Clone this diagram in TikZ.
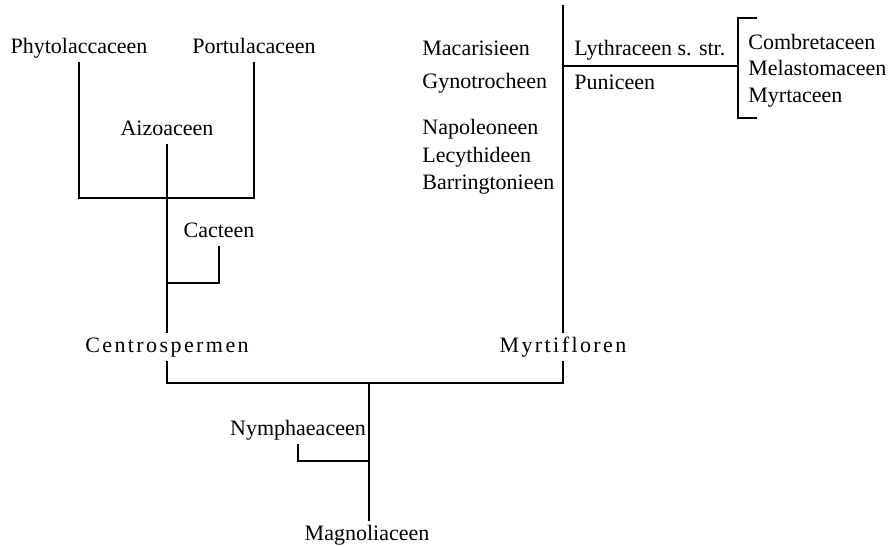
\documentclass[tikz,border=0pt]{standalone}
\usepackage{fontspec}
\setmainfont{Liberation Serif}
\newfontfamily\spacedfont[LetterSpace=11]{Liberation Serif}
\usepackage{tikz}

\begin{document}
\begin{tikzpicture}[x=0.5pt,y=-0.5pt,
  taxon/.style={inner sep=2pt,text height=7.5pt,text depth=2.2pt,font=\fontsize{11}{13}\selectfont},
  group/.style={taxon,font=\spacedfont\fontsize{11}{13}\selectfont},
  stem/.style={line width=1pt},
  brack/.style={line width=1.3pt}]
  \useasboundingbox (0,0) rectangle (893,546);
  % Centrospermen
  \node[taxon] (phyto) at (79,48) {Phytolaccaceen};
  \node[taxon] (portu) at (254,48) {Portulacaceen};
  \node[taxon] (aizo) at (167,130) {Aizoaceen};
  \node[taxon] (cact) at (219,232) {Cacteen};
  \node[group] (centro) at (167,347) {Centrospermen};
  \coordinate (j1) at (167,198); \coordinate (j2) at (167,283);
  \draw[stem] (phyto.south) |- (portu.south |- j1) -- (portu.south);
  \draw[stem] (aizo.south) -- (centro.north);
  \draw[stem] (cact.south) |- (j2);
  % Myrtifloren
  \node[group] (myrt) at (563,347) {Myrtifloren};
  \coordinate (mtop) at (563,5);
  \draw[stem] (mtop) -- (myrt.north);
  \node[taxon,anchor=west] (maca) at (418,50) {Macarisieen};
  \node[taxon,anchor=west] (gyno) at (418,83) {Gynotrocheen};
  \node[taxon,anchor=west] (napo) at (418,129) {Napoleoneen};
  \node[taxon,anchor=west] (lecy) at (418,157) {Lecythideen};
  \node[taxon,anchor=west] (barr) at (418,184) {Barringtonieen};
  \node[taxon,anchor=west] (lythr) at (570,50) {Lythraceen s. str.};
  \node[taxon,anchor=west] (puni) at (570,84) {Puniceen};
  \node[taxon,anchor=west] (combr) at (744,44) {Combretaceen};
  \node[taxon,anchor=west] (mela) at (744,70) {Melastomaceen};
  \node[taxon,anchor=west] (myrta) at (744,97) {Myrtaceen};
  \coordinate (j4) at (563,66); \coordinate (bt) at (738,18); \coordinate (bb) at (738,118);
  \draw[stem] (j4) -- (bt |- j4);
  \draw[brack] (bt) ++(19,0) -- (bt) -- (bb) -- ++(19,0);
  % Magnoliaceen
  \node[taxon] (nymph) at (298,430) {Nymphaeaceen};
  \node[taxon] (magno) at (367,535) {Magnoliaceen};
  \coordinate (root) at (369,383); \coordinate (j3) at (369,461);
  \draw[stem] (centro.south) |- (root) -| (myrt.south);
  \draw[stem] (root) -- (root |- magno.north);
  \draw[stem] (nymph.south) |- (j3);
\end{tikzpicture}
\end{document}
